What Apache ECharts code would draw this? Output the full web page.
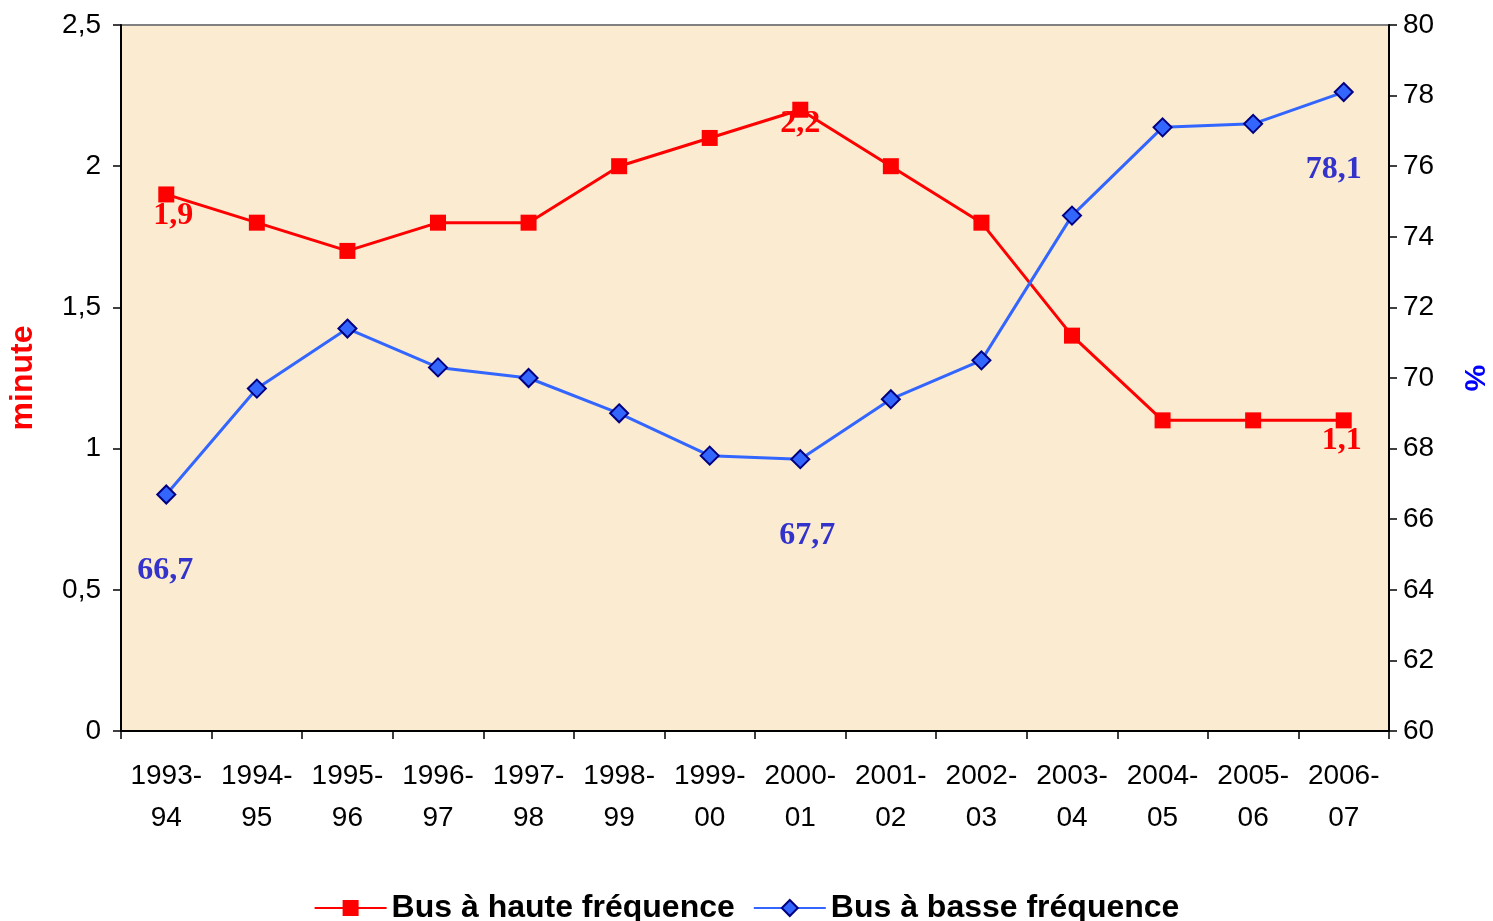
<!DOCTYPE html>
<html>
<head>
<meta charset="utf-8">
<script src="https://cdn.jsdelivr.net/npm/echarts@6/dist/echarts.min.js"></script>
<style>
  html, body { margin: 0; padding: 0; background: #fff; }
  #chart { width: 1493px; height: 921px; }
</style>
</head>
<body>
<div id="chart"></div>
<script>
// data
const categories = ["1993-94", "1994-95", "1995-96", "1996-97", "1997-98", "1998-99", "1999-00",
    "2000-01", "2001-02", "2002-03", "2003-04", "2004-05", "2005-06", "2006-07"];
const hauteFrequence = [1.9, 1.8, 1.7, 1.8, 1.8, 2.0, 2.1, 2.2, 2.0, 1.8, 1.4, 1.1, 1.1, 1.1];
const basseFrequence = [66.7, 69.7, 71.4, 70.3, 70.0, 69.0, 67.8, 67.7, 69.4, 70.5, 74.6, 77.1, 77.2, 78.1];
const leftTicks = { min: 0, max: 2.5, interval: 0.5 };
const rightTicks = { min: 60, max: 80, interval: 2 };

// which points carry a value label, and where the label sits relative to the mark
const redLabelOffsets = { 0: [7, 21], 7: [0, 14], 13: [-2, 20] };
const blueLabelOffsets = { 0: [-1, 76], 7: [7, 77], 13: [-10, 78] };

const comma = (v) => String(v).replace(".", ",");

function withLabels(values, offsets, color) {
    return values.map((v, i) => {
        if (!(i in offsets)) return v;
        return {
            value: v,
            label: {
                show: true,
                position: "inside",
                offset: offsets[i],
                formatter: (p) => comma(p.value.toFixed(1)),
                color: color,
                fontFamily: "Liberation Serif",
                fontWeight: "bold",
                fontSize: 32,
            },
        };
    });
}

const axisText = { color: "#000", fontFamily: "Liberation Sans", fontSize: 28 };

const chart = echarts.init(document.getElementById("chart"));
chart.setOption({
    animation: false,
    grid: {
        left: 121, right: 104, top: 25, bottom: 190,
        outerBoundsMode: "none",
        containLabel: false,
        show: true,
        backgroundColor: "#FAEBD1",
        borderColor: "#808080",
        borderWidth: 2,
    },
    legend: {
        top: 887,
        left: "center",
        itemWidth: 72,
        itemHeight: 20,
        itemGap: 18,
        textStyle: { color: "#000", fontFamily: "Liberation Sans", fontWeight: "bold", fontSize: 32 },
        data: ["Bus à haute fréquence", "Bus à basse fréquence"],
    },
    xAxis: {
        type: "category",
        data: categories,
        boundaryGap: true,
        axisLine: { lineStyle: { color: "#000", width: 2 } },
        axisTick: { show: true, length: 8, lineStyle: { color: "#000", width: 1.5 } },
        axisLabel: {
            ...axisText,
            margin: 24,
            lineHeight: 42,
            interval: 0,
            formatter: (v) => v.replace("-", "-\n"),
        },
    },
    yAxis: [
        {
            type: "value",
            ...leftTicks,
            position: "left",
            name: "minute",
            nameLocation: "middle",
            nameGap: 82,
            nameTextStyle: { color: "#FF0000", fontFamily: "Liberation Sans", fontWeight: "bold", fontSize: 32 },
            axisLine: { show: true, lineStyle: { color: "#000", width: 2 } },
            axisTick: { show: true, length: 8, lineStyle: { color: "#000", width: 1.5 } },
            axisLabel: { ...axisText, margin: 20, formatter: (v) => comma(v) },
            splitLine: { show: false },
        },
        {
            type: "value",
            ...rightTicks,
            position: "right",
            name: "%",
            nameLocation: "middle",
            nameGap: 69,
            nameRotate: -90,
            nameTextStyle: { color: "#0000FF", fontFamily: "Liberation Sans", fontWeight: "bold", fontSize: 30 },
            axisLine: { show: true, lineStyle: { color: "#000", width: 2 } },
            axisTick: { show: true, length: 8, lineStyle: { color: "#000", width: 1.5 } },
            axisLabel: { ...axisText, margin: 14 },
            splitLine: { show: false },
        },
    ],
    series: [
        {
            name: "Bus à haute fréquence",
            type: "line",
            yAxisIndex: 0,
            data: withLabels(hauteFrequence, redLabelOffsets, "#FF0000"),
            symbol: "rect",
            symbolSize: 16,
            lineStyle: { color: "#FF0000", width: 3 },
            itemStyle: { color: "#FF0000" },
        },
        {
            name: "Bus à basse fréquence",
            type: "line",
            yAxisIndex: 1,
            data: withLabels(basseFrequence, blueLabelOffsets, "#3333CC"),
            symbol: "diamond",
            symbolSize: 18,
            lineStyle: { color: "#3366FF", width: 3 },
            itemStyle: { color: "#3366FF", borderColor: "#000080", borderWidth: 2 },
        },
    ],
});
</script>
</body>
</html>
